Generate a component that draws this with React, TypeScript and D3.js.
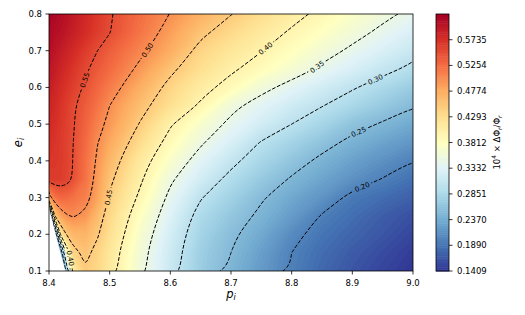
import { useMemo } from "react";
import * as d3 from "d3";

const W = 525;
const H = 315;
const PLOT = { left: 49, right: 413, top: 14, bottom: 271 };
const CBAR = { x: 436, w: 13 };
const FONT = "DejaVu Sans";

// grid of the field, columns = p_i, rows = e_i (bottom row first)
const pGrid = [8.4, 8.41, 8.42, 8.43, 8.44, 8.46, 8.48, 8.5, 8.55, 8.6, 8.65, 8.7, 8.75, 8.8, 8.85, 8.9, 8.95, 9.0];
const eGrid = [0.1, 0.15, 0.2, 0.25, 0.3, 0.35, 0.4, 0.45, 0.5, 0.55, 0.6, 0.65, 0.7, 0.75, 0.8];
const dPhi = [
  [0.15, 0.15, 0.15, 0.28, 0.41, 0.448, 0.437, 0.414, 0.359, 0.313, 0.272, 0.245, 0.221, 0.198, 0.179, 0.164, 0.152, 0.141],
  [0.15, 0.15, 0.22, 0.38, 0.44, 0.457, 0.441, 0.418, 0.362, 0.316, 0.274, 0.25, 0.225, 0.2, 0.183, 0.169, 0.157, 0.146],
  [0.15, 0.2, 0.42, 0.455, 0.468, 0.47, 0.453, 0.428, 0.37, 0.322, 0.28, 0.255, 0.234, 0.208, 0.189, 0.177, 0.165, 0.153],
  [0.15, 0.45, 0.485, 0.498, 0.502, 0.494, 0.465, 0.436, 0.38, 0.331, 0.288, 0.265, 0.244, 0.222, 0.198, 0.184, 0.171, 0.16],
  [0.485, 0.52, 0.53, 0.528, 0.522, 0.511, 0.484, 0.446, 0.394, 0.342, 0.302, 0.277, 0.253, 0.233, 0.215, 0.193, 0.183, 0.173],
  [0.562, 0.564, 0.563, 0.558, 0.548, 0.521, 0.49, 0.457, 0.405, 0.355, 0.32, 0.291, 0.268, 0.247, 0.23, 0.213, 0.199, 0.186],
  [0.57, 0.568, 0.565, 0.559, 0.549, 0.523, 0.495, 0.468, 0.415, 0.372, 0.336, 0.308, 0.283, 0.263, 0.243, 0.227, 0.213, 0.2],
  [0.575, 0.57, 0.565, 0.558, 0.55, 0.527, 0.501, 0.48, 0.432, 0.388, 0.354, 0.326, 0.298, 0.279, 0.261, 0.242, 0.229, 0.217],
  [0.58, 0.574, 0.567, 0.56, 0.552, 0.532, 0.51, 0.492, 0.448, 0.403, 0.37, 0.343, 0.32, 0.3, 0.281, 0.261, 0.247, 0.234],
  [0.585, 0.578, 0.57, 0.562, 0.553, 0.538, 0.52, 0.5, 0.461, 0.428, 0.395, 0.358, 0.336, 0.317, 0.301, 0.284, 0.268, 0.252],
  [0.592, 0.584, 0.576, 0.569, 0.561, 0.546, 0.53, 0.514, 0.476, 0.44, 0.411, 0.388, 0.36, 0.338, 0.32, 0.303, 0.286, 0.27],
  [0.599, 0.592, 0.584, 0.577, 0.569, 0.554, 0.54, 0.527, 0.493, 0.457, 0.428, 0.405, 0.386, 0.367, 0.344, 0.326, 0.309, 0.293],
  [0.606, 0.599, 0.593, 0.586, 0.579, 0.564, 0.55, 0.537, 0.507, 0.477, 0.44, 0.42, 0.401, 0.382, 0.363, 0.344, 0.327, 0.311],
  [0.613, 0.607, 0.603, 0.596, 0.59, 0.577, 0.563, 0.551, 0.52, 0.488, 0.457, 0.435, 0.415, 0.396, 0.379, 0.361, 0.343, 0.327],
  [0.618, 0.614, 0.608, 0.602, 0.595, 0.581, 0.567, 0.553, 0.525, 0.499, 0.474, 0.451, 0.431, 0.41, 0.392, 0.375, 0.358, 0.342],
];

const levels = [0.2, 0.25, 0.3, 0.35, 0.4, 0.45, 0.5, 0.55];
const labelLevels = [0.55, 0.5, 0.45, 0.4, 0.35, 0.3, 0.25, 0.2, 0.4];
const labelP = [8.459, 8.562, 8.497, 8.759, 8.842, 8.937, 8.909, 8.917, 8.436];
const labelE = [0.62, 0.702, 0.301, 0.702, 0.656, 0.626, 0.484, 0.326, 0.135];

// edge of the region with no data (lower left)
const sepE = [0.1, 0.15, 0.2, 0.25, 0.272];
const sepP = [8.427, 8.419, 8.411, 8.4035, 8.4];

const cbMin = 0.1409;
const cbMax = 0.6216;
const cbTicks = ["0.1409", "0.1890", "0.2370", "0.2851", "0.3332", "0.3812", "0.4293", "0.4774", "0.5254", "0.5735"];
const xTicks = [8.4, 8.5, 8.6, 8.7, 8.8, 8.9, 9.0];
const yTicks = [0.1, 0.2, 0.3, 0.4, 0.5, 0.6, 0.7, 0.8];

const x = d3.scaleLinear().domain([8.4, 9.0]).range([PLOT.left, PLOT.right]);
const y = d3.scaleLinear().domain([0.1, 0.8]).range([PLOT.bottom, PLOT.top]);
const cy = d3.scaleLinear().domain([cbMin, cbMax]).range([PLOT.bottom, PLOT.top]);

const rdylbu = [...d3.schemeRdYlBu[11]].reverse();
const color = d3
  .scaleLinear<string>()
  .domain(d3.range(11).map((i) => cbMin + (i * (cbMax - cbMin)) / 10))
  .range(rdylbu)
  .interpolate(d3.interpolateRgb)
  .clamp(true);

const N_FILL = 140;

export default function App() {
  const n = pGrid.length;
  const m = eGrid.length;

  const { fills, lines, labels } = useMemo(() => {
    const values = dPhi.flat();
    const pAt = d3.scaleLinear().domain(d3.range(n)).range(pGrid);
    const eAt = d3.scaleLinear().domain(d3.range(m)).range(eGrid);
    const toPx = (c: number[]) => [x(pAt(c[0] - 0.5)), y(eAt(c[1] - 0.5))];

    const gen = d3.contours().size([n, m]);
    const step = (cbMax - cbMin) / N_FILL;
    const fillTh = d3.range(N_FILL).map((i) => cbMin + i * step);
    const ringD = (ring: number[][]) =>
      "M" + ring.map(toPx).map((p) => p[0].toFixed(2) + "," + p[1].toFixed(2)).join("L") + "Z";
    const fills = gen.thresholds(fillTh)(values).map((c) => ({
      d: c.coordinates.map((poly) => poly.map(ringD).join("")).join(""),
      fill: color(c.value + step / 2),
    }));

    // smooth the dashed iso-lines a bit
    const lineGen = d3.line().curve(d3.curveBasis);
    const lineCs = d3.contours().size([n, m]).thresholds(levels)(values);
    const lines = lineCs.map((c) => ({
      value: c.value,
      rings: c.coordinates.flatMap((poly) => poly.map((r) => r.map(toPx))),
    }));
    const paths = lines.map((l) => l.rings.map((r) => lineGen(r as [number, number][])).join(""));

    const labels = labelLevels.map((lv, k) => {
      const c = lines.find((l) => Math.abs(l.value - lv) < 1e-9)!;
      const tx = x(labelP[k]);
      const ty = y(labelE[k]);
      let best = { d: Infinity, px: tx, py: ty, ang: 0 };
      c.rings.forEach((pts) => {
        for (let i = 0; i < pts.length - 1; i++) {
          const a = pts[i];
          const b = pts[i + 1];
          const dx = b[0] - a[0];
          const dy = b[1] - a[1];
          const len2 = dx * dx + dy * dy || 1;
          const t = Math.max(0, Math.min(1, ((tx - a[0]) * dx + (ty - a[1]) * dy) / len2));
          const px = a[0] + t * dx;
          const py = a[1] + t * dy;
          const d = (px - tx) ** 2 + (py - ty) ** 2;
          if (d < best.d) {
            let ang = (Math.atan2(dy, dx) * 180) / Math.PI;
            if (ang > 90) ang -= 180;
            if (ang < -90) ang += 180;
            best = { d, px, py, ang };
          }
        }
      });
      return { text: lv.toFixed(2), x: best.px, y: best.py, angle: best.ang };
    });

    return { fills, lines: paths, labels };
  }, [n, m]);

  const sepPoly =
    "M" +
    sepE.map((e, i) => `${x(sepP[i])},${y(e)}`).join("L") +
    `L${x(8.4)},${y(0.1)}Z`;

  const cbStep = (cbMax - cbMin) / N_FILL;
  const cbBands = d3.range(N_FILL).map((i) => cbMin + i * cbStep);

  return (
    <svg width={W} height={H} style={{ position: "absolute", left: 0, top: 0, background: "#fff" }} fontFamily={FONT}>
      <defs>
        <clipPath id="plotclip">
          <rect x={PLOT.left} y={PLOT.top} width={PLOT.right - PLOT.left} height={PLOT.bottom - PLOT.top} />
        </clipPath>
        <mask id="lblmask" maskUnits="userSpaceOnUse" x={0} y={0} width={W} height={H}>
          <rect x={0} y={0} width={W} height={H} fill="white" />
          {labels.map((l, i) => (
            <rect
              key={i}
              x={l.x - 10}
              y={l.y - 4}
              width={20}
              height={8}
              fill="black"
              transform={`rotate(${l.angle} ${l.x} ${l.y})`}
            />
          ))}
        </mask>
      </defs>

      <g clipPath="url(#plotclip)">
        <rect x={PLOT.left} y={PLOT.top} width={PLOT.right - PLOT.left} height={PLOT.bottom - PLOT.top} fill={color(cbMin)} />
        {fills.map((f, i) => (
          <path key={i} d={f.d} fill={f.fill} stroke={f.fill} strokeWidth={0.3} />
        ))}
        <g mask="url(#lblmask)">
          {lines.map((d, i) => (
            <path key={i} d={d} fill="none" stroke="#000" strokeWidth={1} strokeDasharray="3.8 1.7" />
          ))}
        </g>
        <path d={sepPoly} fill="#fff" />
      </g>

      {labels.map((l, i) => (
        <text
          key={i}
          x={l.x}
          y={l.y}
          fontSize={7}
          textAnchor="middle"
          dy="0.35em"
          transform={`rotate(${l.angle} ${l.x} ${l.y})`}
        >
          {l.text}
        </text>
      ))}

      <rect
        x={PLOT.left}
        y={PLOT.top}
        width={PLOT.right - PLOT.left}
        height={PLOT.bottom - PLOT.top}
        fill="none"
        stroke="#000"
        strokeWidth={0.8}
      />

      {xTicks.map((t) => (
        <g key={t}>
          <line x1={x(t)} x2={x(t)} y1={PLOT.bottom} y2={PLOT.bottom + 3.5} stroke="#000" strokeWidth={0.8} />
          <text x={x(t)} y={PLOT.bottom + 15} fontSize={8.5} textAnchor="middle">
            {t.toFixed(1)}
          </text>
        </g>
      ))}
      {yTicks.map((t) => (
        <g key={t}>
          <line x1={PLOT.left - 3.5} x2={PLOT.left} y1={y(t)} y2={y(t)} stroke="#000" strokeWidth={0.8} />
          <text x={PLOT.left - 7} y={y(t)} dy="0.36em" fontSize={8.5} textAnchor="end">
            {t.toFixed(1)}
          </text>
        </g>
      ))}

      <text x={(PLOT.left + PLOT.right) / 2} y={298} fontSize={11.5} textAnchor="middle" fontStyle="italic">
        p
        <tspan fontSize={8} dy={2}>
          i
        </tspan>
      </text>
      <text transform={`translate(21.5,${(PLOT.top + PLOT.bottom) / 2}) rotate(-90)`} fontSize={11.5} textAnchor="middle" fontStyle="italic">
        e
        <tspan fontSize={8} dy={2}>
          i
        </tspan>
      </text>

      {cbBands.map((v, i) => (
        <rect
          key={i}
          x={CBAR.x}
          y={cy(v + cbStep)}
          width={CBAR.w}
          height={cy(v) - cy(v + cbStep) + 0.5}
          fill={color(v + cbStep / 2)}
        />
      ))}
      <rect
        x={CBAR.x}
        y={PLOT.top}
        width={CBAR.w}
        height={PLOT.bottom - PLOT.top}
        fill="none"
        stroke="#000"
        strokeWidth={0.8}
      />
      {cbTicks.map((t) => (
        <g key={t}>
          <line
            x1={CBAR.x + CBAR.w}
            x2={CBAR.x + CBAR.w + 3.5}
            y1={cy(+t)}
            y2={cy(+t)}
            stroke="#000"
            strokeWidth={0.8}
          />
          <text x={CBAR.x + CBAR.w + 8} y={cy(+t)} dy="0.36em" fontSize={8.5}>
            {t}
          </text>
        </g>
      ))}
      <text transform={`translate(500,${(PLOT.top + PLOT.bottom) / 2}) rotate(-90)`} fontSize={8.5} textAnchor="middle">
        10
        <tspan fontSize={6} dy={-4}>
          4
        </tspan>
        <tspan dy={4}> × ΔΦ</tspan>
        <tspan fontSize={6} dy={2} fontStyle="italic">
          r
        </tspan>
        <tspan dy={-2}>/Φ</tspan>
        <tspan fontSize={6} dy={2} fontStyle="italic">
          r
        </tspan>
      </text>
    </svg>
  );
}
